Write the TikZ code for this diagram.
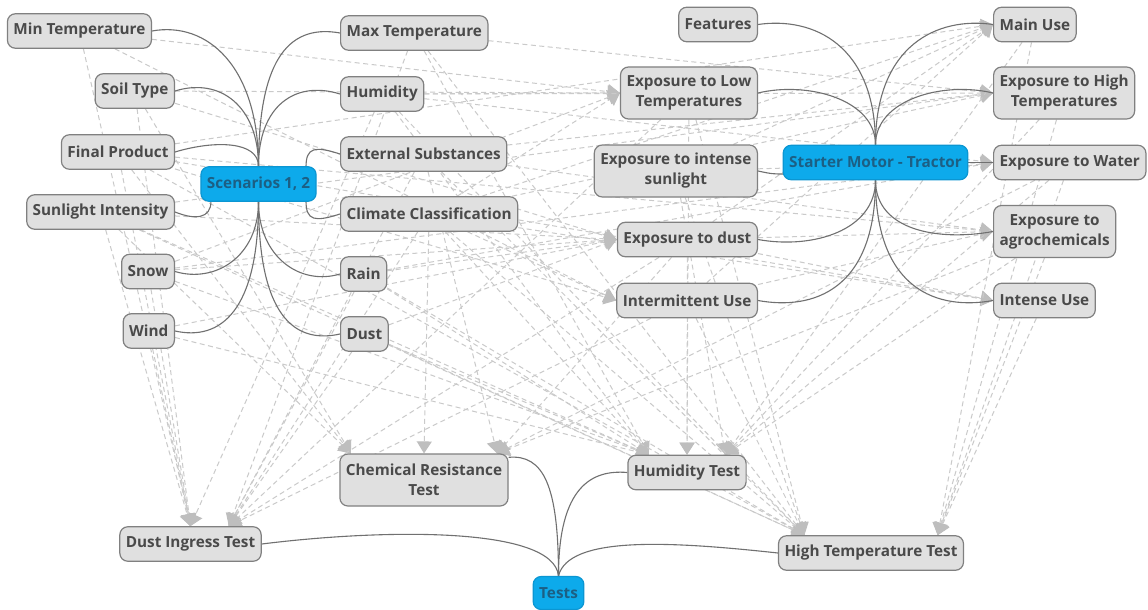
\documentclass[tikz,border=0pt]{standalone}
\usepackage{fontspec}
\setmainfont{Open Sans}
\usetikzlibrary{arrows.meta}
\definecolor{topicfill}{HTML}{E0E0E0}
\definecolor{topicline}{HTML}{808080}
\definecolor{topictext}{HTML}{4A4A4A}
\definecolor{centrefill}{HTML}{0DAAEB}
\definecolor{centreline}{HTML}{0B96D2}
\definecolor{centretext}{HTML}{1C5F84}
\definecolor{branchc}{HTML}{707070}
\definecolor{relline}{HTML}{CACACA}
\definecolor{reltip}{HTML}{BEBEBE}
\pgfdeclarelayer{paper}
\pgfdeclarelayer{bg}
\pgfsetlayers{paper,bg,main}
\tikzset{
  topic/.style={draw=topicline, fill=topicfill, rounded corners=8pt, line width=1.2pt,
    text=topictext, font=\fontsize{15.3}{20}\selectfont\bfseries, align=center,
    inner xsep=6pt, inner ysep=4pt, minimum height=34.5pt},
  two/.style={minimum height=52pt},
  centre/.style={topic, draw=centreline, fill=centrefill, text=centretext},
  branch/.style={draw=branchc, line width=1.1pt},
  rel/.style={draw=relline, line width=1pt, dash pattern=on 5pt off 3.5pt,
    -{Triangle[length=12pt,width=15pt,color=reltip]}},
}
\begin{document}
\begin{tikzpicture}[x=1pt,y=-1pt]
\begin{pgfonlayer}{paper}
\fill[white] (0,0) rectangle (1148,610);
\end{pgfonlayer}
\useasboundingbox (0,0) rectangle (1148,610);

% scenario side
\node[centre] (scen) at (258.5,184) {Scenarios 1, 2};
\node[topic, anchor=east] (min)   at (152,31)  {Min Temperature};
\node[topic, anchor=east] (soil)  at (175,91)  {Soil Type};
\node[topic, anchor=east] (final) at (175,152) {Final Product};
\node[topic, anchor=east] (sun)   at (175,212) {Sunlight Intensity};
\node[topic, anchor=east] (snow)  at (175,271.5) {Snow};
\node[topic, anchor=east] (wind)  at (175,331) {Wind};
\node[topic, anchor=west] (max)   at (340,33)  {Max Temperature};
\node[topic, anchor=west] (hum)   at (340,94)  {Humidity};
\node[topic, anchor=west] (ext)   at (340,154) {External Substances};
\node[topic, anchor=west] (clim)  at (340,214) {Climate Classification};
\node[topic, anchor=west] (rain)  at (340,274) {Rain};
\node[topic, anchor=west] (dust)  at (340,334) {Dust};

% product side
\node[centre] (st) at (875.5,162.5) {Starter Motor - Tractor};
\node[topic, anchor=east] (feat)  at (758,24.5)  {Features};
\node[topic, two, anchor=east] (lowT) at (758,93) {Exposure to Low\\Temperatures};
\node[topic, two, anchor=east] (isun) at (758,171) {Exposure to intense\\sunlight};
\node[topic, anchor=east] (edust) at (758,239.5) {Exposure to dust};
\node[topic, anchor=east] (inter) at (758,300.5) {Intermittent Use};
\node[topic, anchor=west] (main)  at (993,24.5)  {Main Use};
\node[topic, two, anchor=west] (highT) at (993,93) {Exposure to High\\Temperatures};
\node[topic, anchor=west] (water) at (993,162.5) {Exposure to Water};
\node[topic, two, anchor=west] (agro) at (993,231.5) {Exposure to\\agrochemicals};
\node[topic, anchor=west] (intense) at (993,300.5) {Intense Use};

% tests
\node[centre, minimum height=33pt] (tests) at (558.5,593) {Tests};
\node[topic, two] (chem) at (424,480) {Chemical Resistance\\Test};
\node[topic] (ht)  at (687,472.5) {Humidity Test};
\node[topic] (dit) at (190.5,544) {Dust Ingress Test};
\node[topic] (htt) at (871,553)   {High Temperature Test};

\begin{pgfonlayer}{bg}
% relationships between topics
\foreach \s in {min,soil,hum,clim,snow} \draw[rel] (\s) -- (lowT.west);
\foreach \s in {max,hum,sun,ext,clim} \draw[rel] (\s) -- (highT.west);
\foreach \s in {rain,snow,hum,isun} \draw[rel] (\s) -- (water.west);
\foreach \s in {ext,final,edust,inter} \draw[rel] (\s) -- (agro.west);
\foreach \s in {final,edust,clim} \draw[rel] (\s) -- (intense.west);
\foreach \s in {final,inter,clim,edust,isun} \draw[rel] (\s) -- (main.west);
\foreach \s in {dust,wind,soil,sun,snow,rain} \draw[rel] (\s) -- (edust.west);
\foreach \s in {final,min,clim} \draw[rel] (\s) -- (inter.west);

\draw[rel] (clim) -- (chem.north);
\foreach \s in {final,sun,soil} \draw[rel] (\s) -- (chem.160);
\foreach \s in {agro,edust,ext,water} \draw[rel] (\s) -- (chem.20);

\foreach \s in {min,soil,final,sun,snow,wind,hum} \draw[rel] (\s) -- (dit.north);
\foreach \s in {dust,rain,clim,ext,edust,inter,lowT,max} \draw[rel] (\s) -- (dit.25);

\foreach \s in {hum,rain,snow,max,wind,sun,clim,dust} \draw[rel] (\s) -- (ht.155);
\foreach \s in {lowT,edust} \draw[rel] (\s) -- (ht.north);
\foreach \s in {water,highT,agro,main,isun} \draw[rel] (\s) -- (ht.25);

\foreach \s in {max,sun,clim,isun,inter,lowT,ext,rain,dust,final,hum} \draw[rel] (\s) -- (htt.165);
\foreach \s in {main,highT,water,agro,intense} \draw[rel] (\s) -- (htt.15);

% branches of the scenario map
\draw[branch] (scen.north) .. controls +(0,-100) and +(55,-10) .. (min.east);
\draw[branch] (scen.north) .. controls +(0,-60) and +(45,-14) .. (soil.east);
\draw[branch] (scen.north) .. controls +(0,-25) and +(40,-12) .. (final.east);
\draw[branch] (scen.north) .. controls +(0,-100) and +(-55,-10) .. (max.west);
\draw[branch] (scen.north) .. controls +(0,-60) and +(-45,-14) .. (hum.west);
\draw[branch] (306,167) .. controls +(0,-20) and +(-25,-8) .. (ext.west);
\draw[branch] (306,201) .. controls +(0,20) and +(-25,8) .. (clim.west);
\draw[branch] (211,201) .. controls +(0,18) and +(20,8) .. (sun.east);
\draw[branch] (scen.south) .. controls +(0,55) and +(40,12) .. (snow.east);
\draw[branch] (scen.south) .. controls +(0,110) and +(45,10) .. (wind.east);
\draw[branch] (scen.south) .. controls +(0,55) and +(-40,12) .. (rain.west);
\draw[branch] (scen.south) .. controls +(0,115) and +(-45,10) .. (dust.west);

% branches of the product map
\draw[branch] (st.north) .. controls +(0,-100) and +(55,-8) .. (feat.east);
\draw[branch] (st.north) .. controls +(0,-100) and +(-55,-8) .. (main.west);
\draw[branch] (st.north) .. controls +(0,-45) and +(50,-12) .. (lowT.east);
\draw[branch] (st.north) .. controls +(0,-45) and +(-50,-12) .. (highT.west);
\draw[branch] (785,174) .. controls +(-12,0) and +(14,3) .. (isun.east);
\draw[branch] (st.east) -- (water.west);
\draw[branch] (st.south) .. controls +(0,50) and +(55,10) .. (edust.east);
\draw[branch] (st.south) .. controls +(0,110) and +(55,10) .. (inter.east);
\draw[branch] (st.south) .. controls +(0,50) and +(-55,10) .. (agro.west);
\draw[branch] (st.south) .. controls +(0,110) and +(-55,10) .. (intense.west);

% branches of the test map
\draw[branch] (tests.north) .. controls +(-5,-50) and +(120,-15) .. (dit.east);
\draw[branch] (tests.north) .. controls +(0,-90) and +(35,-3) .. (chem.15);
\draw[branch] (tests.north) .. controls +(0,-90) and +(-35,-3) .. (ht.west);
\draw[branch] (tests.north) .. controls +(10,-40) and +(-110,-12) .. (htt.west);
\end{pgfonlayer}
\end{tikzpicture}
\end{document}
